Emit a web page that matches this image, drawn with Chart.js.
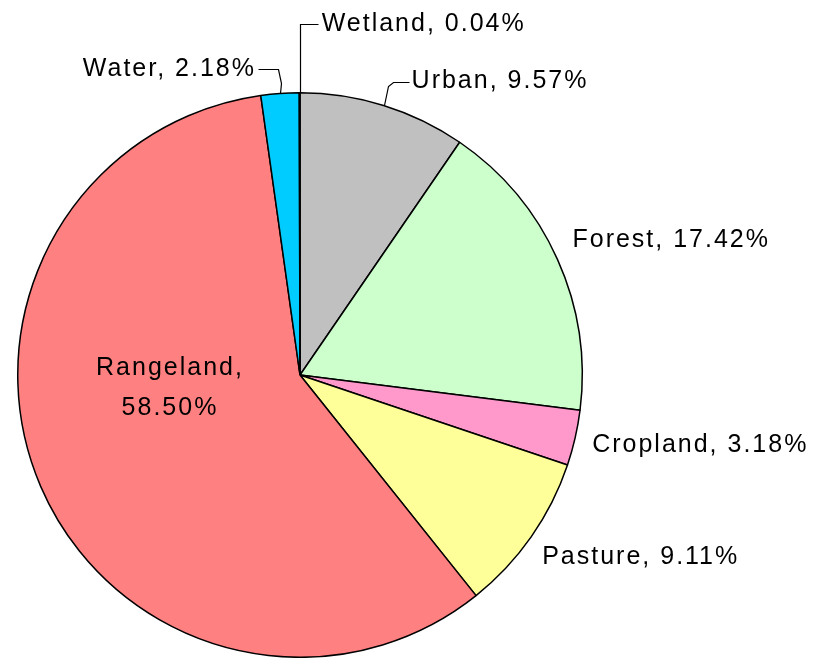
<!DOCTYPE html>
<html>
<head>
<meta charset="utf-8">
<script src="https://cdn.jsdelivr.net/npm/chart.js@4"></script>
<style>
  body { margin: 0; background: #fff; }
  canvas { display: block; }
</style>
</head>
<body>
<canvas id="pie" width="815" height="658"></canvas>
<script>
const categories = ['Urban', 'Forest', 'Cropland', 'Pasture', 'Rangeland', 'Water', 'Wetland'];
const shares = [9.57, 17.42, 3.18, 9.11, 58.50, 2.18, 0.04];
const labelLines = [
    ['Urban, 9.57%'],
    ['Forest, 17.42%'],
    ['Cropland, 3.18%'],
    ['Pasture, 9.11%'],
    ['Rangeland,', '58.50%'],
    ['Water, 2.18%'],
    ['Wetland, 0.04%']
];
const sliceColors = ['#C0C0C0', '#CCFFCC', '#FF99CC', '#FFFF99', '#FF8080', '#00CCFF', '#9999FF'];

// where each label goes, relative to the middle of its arc's outer edge
const labelPlacement = [
    { dx: 28, dy: -24, align: 'left', leader: [[0, 0], [4, -19], [9, -23], [25, -23]] },
    { dx: 15, dy: -19, align: 'left' },
    { dx: 17, dy: 7, align: 'left' },
    { dx: 11, dy: 20, align: 'left' },
    { inside: true, cx: -130, cy: 13 },
    { dx: -24, dy: -24, align: 'right', leader: [[0, 0], [1, -10], [-2, -24], [-22, -24]] },
    { dx: 22, dy: -69, align: 'left', leader: [[0, 0], [0, -69], [18, -69]] }
];

const pieLabels = {
    id: 'pieLabels',
    afterDatasetsDraw(chart) {
        const ctx = chart.ctx;
        const arcs = chart.getDatasetMeta(0).data;
        ctx.save();
        ctx.font = '25px "Liberation Sans", Arial, sans-serif';
        ctx.letterSpacing = '2px';
        ctx.fillStyle = '#000';
        ctx.strokeStyle = '#000';
        ctx.lineWidth = 1.2;
        ctx.textBaseline = 'middle';
        arcs.forEach(function (arc, i) {
            const p = labelPlacement[i];
            const mid = (arc.startAngle + arc.endAngle) / 2;
            if (p.inside) {
                ctx.textAlign = 'center';
                labelLines[i].forEach(function (line, k) {
                    ctx.fillText(line, arc.x + p.cx, arc.y + p.cy + (k - 0.5) * 40);
                });
                return;
            }
            const ex = arc.x + Math.cos(mid) * arc.outerRadius;
            const ey = arc.y + Math.sin(mid) * arc.outerRadius;
            if (p.leader) {
                ctx.beginPath();
                p.leader.forEach(function (pt, k) {
                    const x = Math.round(ex + pt[0]) + 0.5;
                    const y = Math.round(ey + pt[1]) + 0.5;
                    if (k === 0) ctx.moveTo(x, y); else ctx.lineTo(x, y);
                });
                ctx.stroke();
            }
            ctx.textAlign = p.align;
            ctx.fillText(labelLines[i][0], ex + p.dx, ey + p.dy);
        });
        ctx.restore();
    }
};

new Chart(document.getElementById('pie').getContext('2d'), {
    type: 'pie',
    data: {
        labels: categories,
        datasets: [{
            data: shares,
            backgroundColor: sliceColors,
            borderColor: '#000',
            borderWidth: 1.5
        }]
    },
    options: {
        responsive: false,
        animation: false,
        layout: { padding: { left: 17, right: 232, top: 92, bottom: 0 } },
        plugins: {
            legend: { display: false },
            tooltip: { enabled: false }
        }
    },
    plugins: [pieLabels]
});
</script>
</body>
</html>
